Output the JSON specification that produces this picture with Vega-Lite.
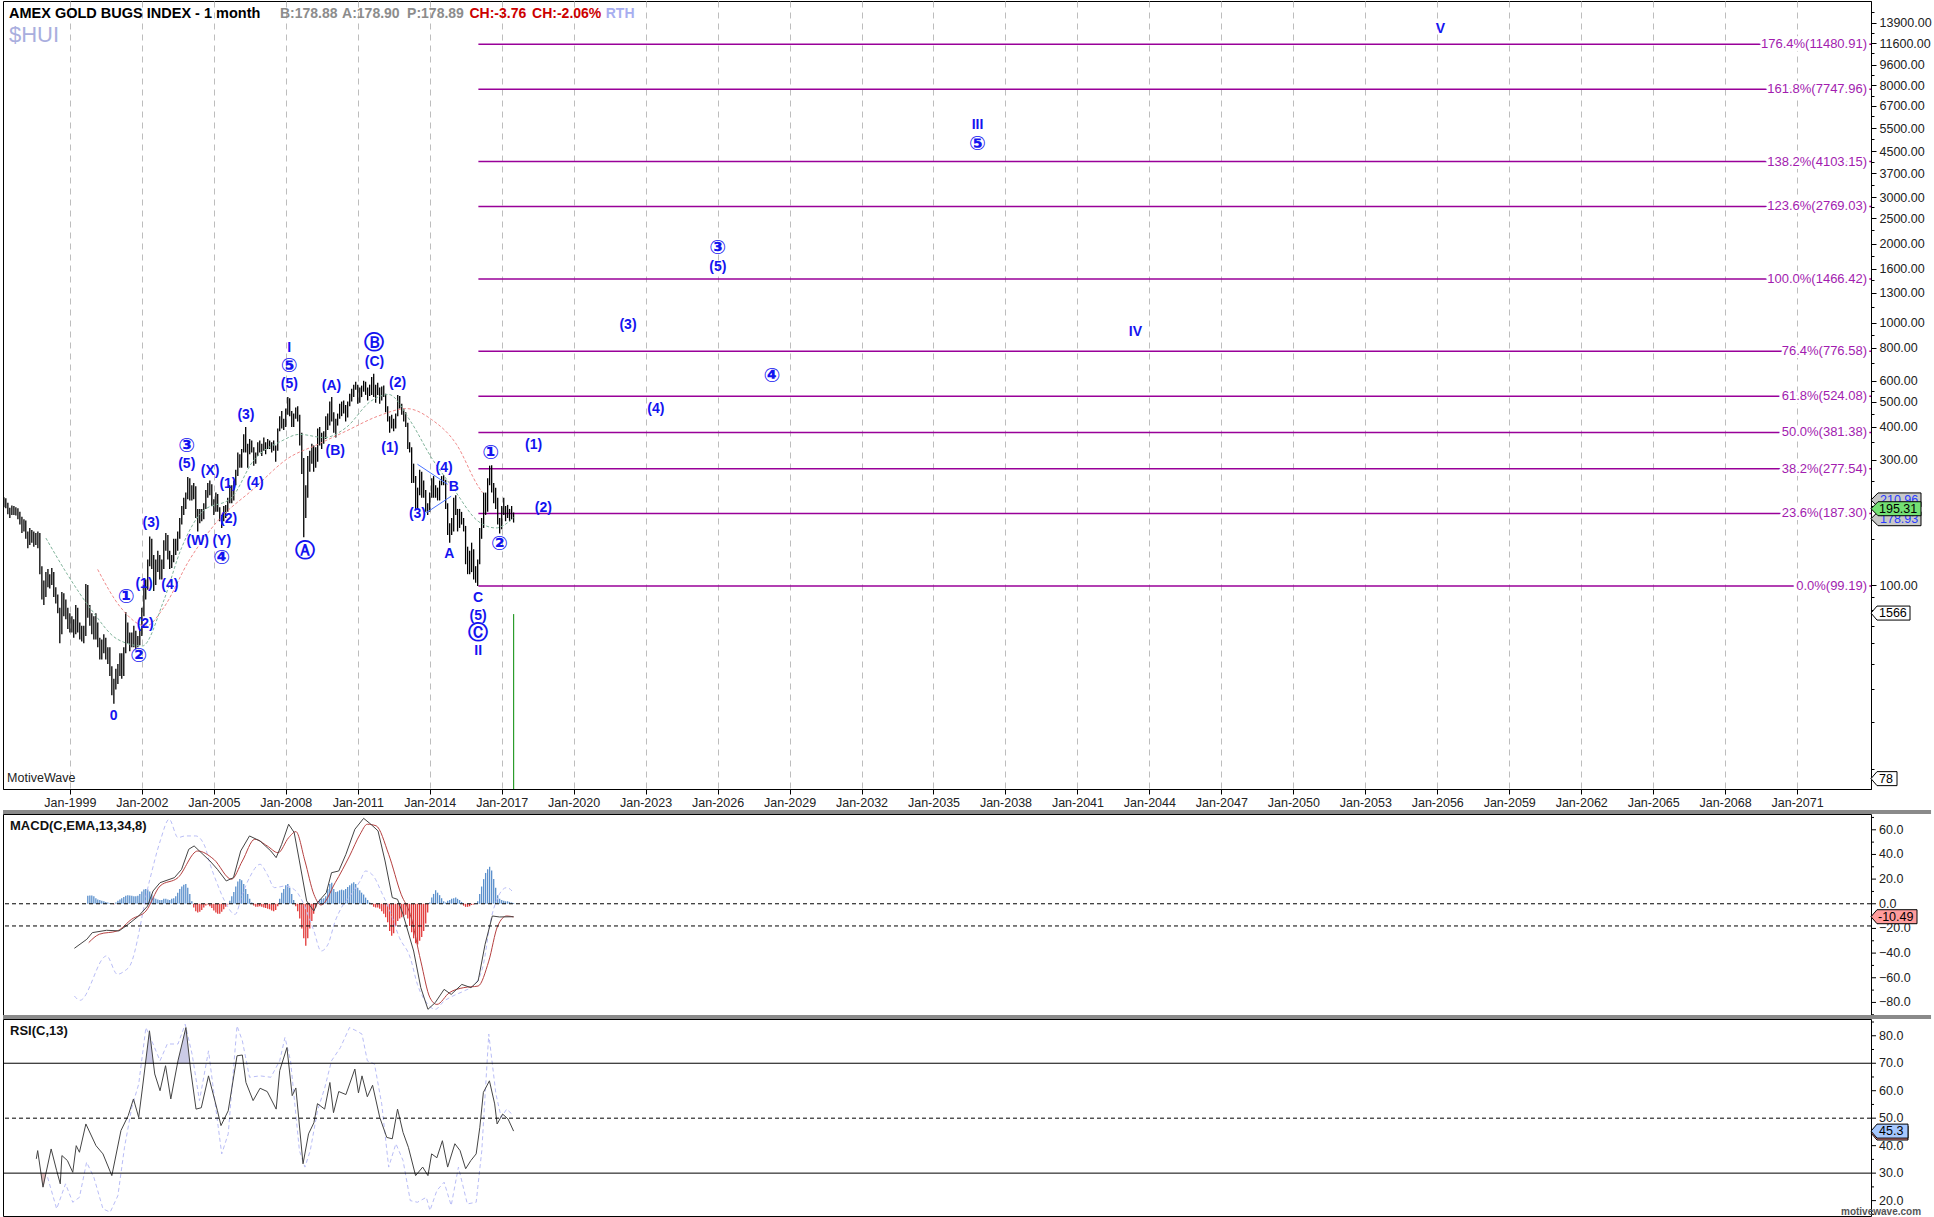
{
"$schema": "https://vega.github.io/schema/vega-lite/v6.json",
"padding": 0,
"background": "white",
"spacing": 25,
"bounds": "flush",
"config": {
 "view": {"stroke": "#000", "strokeWidth": 1},
 "axis": {"title": null, "labelFont": "Liberation Sans", "labelFontSize": 12.5, "labelColor": "#222", "tickColor": "#000", "domainColor": "#000", "labelOverlap": false, "labelFlush": false, "labelBound": false},
 "text": {"font": "Liberation Sans"}
},
"datasets": {
 "px": [
{"d":"1996-04-01","o":203,"h":216,"l":198,"c":210},{"d":"1996-05-01","o":210,"h":214,"l":196,"c":200},{"d":"1996-06-01","o":200,"h":206,"l":186,"c":190},{"d":"1996-07-01","o":190,"h":197,"l":180,"c":188},{"d":"1996-08-01","o":188,"h":201,"l":185,"c":196},{"d":"1996-09-01","o":196,"h":200,"l":185,"c":190},{"d":"1996-10-01","o":190,"h":198,"l":184,"c":192},{"d":"1996-11-01","o":192,"h":196,"l":178,"c":183},{"d":"1996-12-01","o":183,"h":190,"l":170,"c":176},
{"d":"1997-01-01","o":176,"h":182,"l":158,"c":165},{"d":"1997-02-01","o":165,"h":178,"l":160,"c":172},{"d":"1997-03-01","o":172,"h":176,"l":150,"c":155},{"d":"1997-04-01","o":155,"h":160,"l":138,"c":145},{"d":"1997-05-01","o":145,"h":165,"l":142,"c":158},{"d":"1997-06-01","o":158,"h":162,"l":145,"c":150},{"d":"1997-07-01","o":150,"h":160,"l":140,"c":152},{"d":"1997-08-01","o":152,"h":158,"l":142,"c":148},{"d":"1997-09-01","o":148,"h":160,"l":138,"c":155},{"d":"1997-10-01","o":155,"h":158,"l":110,"c":115},{"d":"1997-11-01","o":115,"h":118,"l":88,"c":96},{"d":"1997-12-01","o":96,"h":104,"l":84,"c":98},
{"d":"1998-01-01","o":98,"h":112,"l":90,"c":108},{"d":"1998-02-01","o":108,"h":115,"l":98,"c":104},{"d":"1998-03-01","o":104,"h":110,"l":97,"c":106},{"d":"1998-04-01","o":106,"h":116,"l":100,"c":110},{"d":"1998-05-01","o":110,"h":112,"l":90,"c":94},{"d":"1998-06-01","o":94,"h":98,"l":85,"c":88},{"d":"1998-07-01","o":88,"h":92,"l":78,"c":80},{"d":"1998-08-01","o":80,"h":82,"l":60,"c":66},{"d":"1998-09-01","o":66,"h":94,"l":65,"c":90},{"d":"1998-10-01","o":90,"h":93,"l":76,"c":82},{"d":"1998-11-01","o":82,"h":88,"l":74,"c":78},{"d":"1998-12-01","o":78,"h":82,"l":68,"c":72},
{"d":"1999-01-01","o":72,"h":78,"l":66,"c":73},{"d":"1999-02-01","o":73,"h":76,"l":66,"c":68},{"d":"1999-03-01","o":68,"h":74,"l":63,"c":66},{"d":"1999-04-01","o":66,"h":84,"l":65,"c":80},{"d":"1999-05-01","o":80,"h":82,"l":66,"c":68},{"d":"1999-06-01","o":68,"h":72,"l":62,"c":66},{"d":"1999-07-01","o":66,"h":70,"l":61,"c":64},{"d":"1999-08-01","o":64,"h":70,"l":60,"c":66},{"d":"1999-09-01","o":66,"h":101,"l":64,"c":92},{"d":"1999-10-01","o":92,"h":100,"l":75,"c":80},{"d":"1999-11-01","o":80,"h":84,"l":70,"c":72},{"d":"1999-12-01","o":72,"h":78,"l":65,"c":70},
{"d":"2000-01-01","o":70,"h":76,"l":62,"c":66},{"d":"2000-02-01","o":66,"h":78,"l":62,"c":70},{"d":"2000-03-01","o":70,"h":72,"l":58,"c":60},{"d":"2000-04-01","o":60,"h":63,"l":52,"c":55},{"d":"2000-05-01","o":55,"h":62,"l":52,"c":58},{"d":"2000-06-01","o":58,"h":65,"l":55,"c":62},{"d":"2000-07-01","o":62,"h":63,"l":52,"c":54},{"d":"2000-08-01","o":54,"h":58,"l":50,"c":55},{"d":"2000-09-01","o":55,"h":58,"l":45,"c":47},{"d":"2000-10-01","o":47,"h":49,"l":38,"c":40},{"d":"2000-11-01","o":40,"h":44,"l":35.3,"c":42},{"d":"2000-12-01","o":42,"h":48,"l":40,"c":46},
{"d":"2001-01-01","o":46,"h":50,"l":42,"c":48},{"d":"2001-02-01","o":48,"h":55,"l":45,"c":52},{"d":"2001-03-01","o":52,"h":55,"l":44,"c":46},{"d":"2001-04-01","o":46,"h":58,"l":45,"c":56},{"d":"2001-05-01","o":56,"h":79,"l":55,"c":68},{"d":"2001-06-01","o":68,"h":72,"l":60,"c":63},{"d":"2001-07-01","o":63,"h":66,"l":56,"c":60},{"d":"2001-08-01","o":60,"h":66,"l":58,"c":64},{"d":"2001-09-01","o":64,"h":70,"l":58,"c":62},{"d":"2001-10-01","o":62,"h":67,"l":57,"c":60},{"d":"2001-11-01","o":60,"h":64,"l":58,"c":61},{"d":"2001-12-01","o":61,"h":68,"l":59,"c":66},
{"d":"2002-01-01","o":66,"h":82,"l":64,"c":80},{"d":"2002-02-01","o":80,"h":100,"l":76,"c":95},{"d":"2002-03-01","o":95,"h":105,"l":88,"c":100},{"d":"2002-04-01","o":100,"h":125,"l":96,"c":122},{"d":"2002-05-01","o":122,"h":153,"l":118,"c":140},{"d":"2002-06-01","o":140,"h":150,"l":115,"c":125},{"d":"2002-07-01","o":125,"h":130,"l":95,"c":105},{"d":"2002-08-01","o":105,"h":125,"l":100,"c":120},{"d":"2002-09-01","o":120,"h":135,"l":112,"c":128},{"d":"2002-10-01","o":128,"h":130,"l":105,"c":110},{"d":"2002-11-01","o":110,"h":125,"l":105,"c":118},{"d":"2002-12-01","o":118,"h":148,"l":115,"c":145},
{"d":"2003-01-01","o":145,"h":158,"l":135,"c":150},{"d":"2003-02-01","o":150,"h":155,"l":125,"c":130},{"d":"2003-03-01","o":130,"h":135,"l":115,"c":122},{"d":"2003-04-01","o":122,"h":130,"l":116,"c":125},{"d":"2003-05-01","o":125,"h":150,"l":122,"c":145},{"d":"2003-06-01","o":145,"h":150,"l":130,"c":138},{"d":"2003-07-01","o":138,"h":160,"l":135,"c":155},{"d":"2003-08-01","o":155,"h":180,"l":150,"c":175},{"d":"2003-09-01","o":175,"h":200,"l":170,"c":190},{"d":"2003-10-01","o":190,"h":215,"l":185,"c":210},{"d":"2003-11-01","o":210,"h":225,"l":195,"c":218},{"d":"2003-12-01","o":218,"h":258,"l":212,"c":250},
{"d":"2004-01-01","o":250,"h":255,"l":210,"c":225},{"d":"2004-02-01","o":225,"h":240,"l":210,"c":220},{"d":"2004-03-01","o":220,"h":245,"l":212,"c":235},{"d":"2004-04-01","o":235,"h":238,"l":180,"c":185},{"d":"2004-05-01","o":185,"h":195,"l":160,"c":188},{"d":"2004-06-01","o":188,"h":195,"l":172,"c":180},{"d":"2004-07-01","o":180,"h":195,"l":175,"c":185},{"d":"2004-08-01","o":185,"h":205,"l":178,"c":200},{"d":"2004-09-01","o":200,"h":230,"l":195,"c":225},{"d":"2004-10-01","o":225,"h":245,"l":215,"c":235},{"d":"2004-11-01","o":235,"h":250,"l":220,"c":240},{"d":"2004-12-01","o":240,"h":242,"l":200,"c":210},
{"d":"2005-01-01","o":210,"h":212,"l":185,"c":195},{"d":"2005-02-01","o":195,"h":225,"l":190,"c":215},{"d":"2005-03-01","o":215,"h":222,"l":190,"c":195},{"d":"2005-04-01","o":195,"h":198,"l":175,"c":180},{"d":"2005-05-01","o":180,"h":185,"l":165,"c":178},{"d":"2005-06-01","o":178,"h":200,"l":175,"c":195},{"d":"2005-07-01","o":195,"h":202,"l":180,"c":195},{"d":"2005-08-01","o":195,"h":215,"l":190,"c":210},{"d":"2005-09-01","o":210,"h":240,"l":205,"c":235},{"d":"2005-10-01","o":235,"h":240,"l":205,"c":215},{"d":"2005-11-01","o":215,"h":250,"l":210,"c":245},{"d":"2005-12-01","o":245,"h":275,"l":240,"c":265},
{"d":"2006-01-01","o":265,"h":320,"l":260,"c":310},{"d":"2006-02-01","o":310,"h":315,"l":280,"c":290},{"d":"2006-03-01","o":290,"h":330,"l":280,"c":325},{"d":"2006-04-01","o":325,"h":375,"l":320,"c":365},{"d":"2006-05-01","o":365,"h":400,"l":320,"c":340},{"d":"2006-06-01","o":340,"h":345,"l":280,"c":325},{"d":"2006-07-01","o":325,"h":360,"l":315,"c":340},{"d":"2006-08-01","o":340,"h":355,"l":320,"c":330},{"d":"2006-09-01","o":330,"h":335,"l":285,"c":300},{"d":"2006-10-01","o":300,"h":320,"l":290,"c":315},{"d":"2006-11-01","o":315,"h":350,"l":310,"c":345},{"d":"2006-12-01","o":345,"h":355,"l":320,"c":340},
{"d":"2007-01-01","o":340,"h":345,"l":310,"c":330},{"d":"2007-02-01","o":330,"h":365,"l":325,"c":345},{"d":"2007-03-01","o":345,"h":350,"l":315,"c":340},{"d":"2007-04-01","o":340,"h":360,"l":330,"c":345},{"d":"2007-05-01","o":345,"h":355,"l":330,"c":345},{"d":"2007-06-01","o":345,"h":350,"l":320,"c":330},{"d":"2007-07-01","o":330,"h":355,"l":325,"c":335},{"d":"2007-08-01","o":335,"h":340,"l":295,"c":330},{"d":"2007-09-01","o":330,"h":395,"l":325,"c":390},{"d":"2007-10-01","o":390,"h":440,"l":385,"c":435},{"d":"2007-11-01","o":435,"h":460,"l":395,"c":415},{"d":"2007-12-01","o":415,"h":430,"l":390,"c":410},
{"d":"2008-01-01","o":410,"h":470,"l":400,"c":460},{"d":"2008-02-01","o":460,"h":520,"l":445,"c":500},{"d":"2008-03-01","o":500,"h":515,"l":440,"c":455},{"d":"2008-04-01","o":455,"h":460,"l":400,"c":410},{"d":"2008-05-01","o":410,"h":450,"l":400,"c":445},{"d":"2008-06-01","o":445,"h":475,"l":430,"c":460},{"d":"2008-07-01","o":460,"h":480,"l":420,"c":440},{"d":"2008-08-01","o":440,"h":445,"l":340,"c":350},{"d":"2008-09-01","o":350,"h":380,"l":265,"c":300},{"d":"2008-10-01","o":300,"h":305,"l":152,"c":210},{"d":"2008-11-01","o":210,"h":240,"l":180,"c":225},{"d":"2008-12-01","o":225,"h":310,"l":215,"c":300},
{"d":"2009-01-01","o":300,"h":325,"l":270,"c":310},{"d":"2009-02-01","o":310,"h":345,"l":290,"c":320},{"d":"2009-03-01","o":320,"h":340,"l":270,"c":330},{"d":"2009-04-01","o":330,"h":335,"l":280,"c":300},{"d":"2009-05-01","o":300,"h":395,"l":295,"c":390},{"d":"2009-06-01","o":390,"h":400,"l":340,"c":360},{"d":"2009-07-01","o":360,"h":380,"l":330,"c":370},{"d":"2009-08-01","o":370,"h":385,"l":345,"c":380},{"d":"2009-09-01","o":380,"h":440,"l":360,"c":420},{"d":"2009-10-01","o":420,"h":450,"l":390,"c":410},{"d":"2009-11-01","o":410,"h":500,"l":405,"c":490},{"d":"2009-12-01","o":490,"h":520,"l":420,"c":430},
{"d":"2010-01-01","o":430,"h":455,"l":380,"c":390},{"d":"2010-02-01","o":390,"h":430,"l":365,"c":420},{"d":"2010-03-01","o":420,"h":450,"l":405,"c":440},{"d":"2010-04-01","o":440,"h":490,"l":430,"c":480},{"d":"2010-05-01","o":480,"h":500,"l":440,"c":470},{"d":"2010-06-01","o":470,"h":505,"l":450,"c":480},{"d":"2010-07-01","o":480,"h":485,"l":420,"c":440},{"d":"2010-08-01","o":440,"h":500,"l":435,"c":490},{"d":"2010-09-01","o":490,"h":535,"l":480,"c":530},{"d":"2010-10-01","o":530,"h":560,"l":500,"c":550},{"d":"2010-11-01","o":550,"h":580,"l":520,"c":570},{"d":"2010-12-01","o":570,"h":595,"l":555,"c":575},
{"d":"2011-01-01","o":575,"h":580,"l":490,"c":500},{"d":"2011-02-01","o":500,"h":565,"l":495,"c":560},{"d":"2011-03-01","o":560,"h":575,"l":520,"c":560},{"d":"2011-04-01","o":560,"h":600,"l":545,"c":590},{"d":"2011-05-01","o":590,"h":595,"l":530,"c":560},{"d":"2011-06-01","o":560,"h":565,"l":505,"c":530},{"d":"2011-07-01","o":530,"h":580,"l":525,"c":565},{"d":"2011-08-01","o":565,"h":620,"l":530,"c":600},{"d":"2011-09-01","o":600,"h":638,"l":520,"c":535},{"d":"2011-10-01","o":535,"h":580,"l":495,"c":550},{"d":"2011-11-01","o":550,"h":590,"l":530,"c":560},{"d":"2011-12-01","o":560,"h":565,"l":490,"c":510},
{"d":"2012-01-01","o":510,"h":570,"l":505,"c":560},{"d":"2012-02-01","o":560,"h":575,"l":520,"c":530},{"d":"2012-03-01","o":530,"h":535,"l":455,"c":470},{"d":"2012-04-01","o":470,"h":480,"l":420,"c":430},{"d":"2012-05-01","o":430,"h":440,"l":380,"c":410},{"d":"2012-06-01","o":410,"h":445,"l":395,"c":420},{"d":"2012-07-01","o":420,"h":430,"l":385,"c":400},{"d":"2012-08-01","o":400,"h":450,"l":395,"c":445},{"d":"2012-09-01","o":445,"h":530,"l":440,"c":500},{"d":"2012-10-01","o":500,"h":525,"l":470,"c":480},{"d":"2012-11-01","o":480,"h":490,"l":445,"c":460},{"d":"2012-12-01","o":460,"h":470,"l":420,"c":440},
{"d":"2013-01-01","o":440,"h":455,"l":400,"c":410},{"d":"2013-02-01","o":410,"h":415,"l":330,"c":340},{"d":"2013-03-01","o":340,"h":350,"l":320,"c":330},{"d":"2013-04-01","o":330,"h":335,"l":245,"c":260},{"d":"2013-05-01","o":260,"h":290,"l":245,"c":250},{"d":"2013-06-01","o":250,"h":260,"l":195,"c":205},{"d":"2013-07-01","o":205,"h":235,"l":195,"c":225},{"d":"2013-08-01","o":225,"h":275,"l":220,"c":250},{"d":"2013-09-01","o":250,"h":270,"l":215,"c":230},{"d":"2013-10-01","o":230,"h":250,"l":215,"c":225},{"d":"2013-11-01","o":225,"h":230,"l":190,"c":195},{"d":"2013-12-01","o":195,"h":205,"l":185,"c":195},
{"d":"2014-01-01","o":195,"h":225,"l":190,"c":220},{"d":"2014-02-01","o":220,"h":255,"l":215,"c":250},{"d":"2014-03-01","o":250,"h":260,"l":215,"c":225},{"d":"2014-04-01","o":225,"h":240,"l":215,"c":230},{"d":"2014-05-01","o":230,"h":235,"l":210,"c":215},{"d":"2014-06-01","o":215,"h":250,"l":210,"c":250},{"d":"2014-07-01","o":250,"h":260,"l":240,"c":255},{"d":"2014-08-01","o":255,"h":262,"l":240,"c":250},{"d":"2014-09-01","o":250,"h":252,"l":195,"c":200},{"d":"2014-10-01","o":200,"h":205,"l":155,"c":160},{"d":"2014-11-01","o":160,"h":172,"l":145,"c":165},{"d":"2014-12-01","o":165,"h":180,"l":155,"c":165},
{"d":"2015-01-01","o":165,"h":215,"l":160,"c":205},{"d":"2015-02-01","o":205,"h":220,"l":185,"c":190},{"d":"2015-03-01","o":190,"h":195,"l":160,"c":170},{"d":"2015-04-01","o":170,"h":195,"l":165,"c":180},{"d":"2015-05-01","o":180,"h":190,"l":170,"c":175},{"d":"2015-06-01","o":175,"h":180,"l":160,"c":165},{"d":"2015-07-01","o":165,"h":168,"l":120,"c":125},{"d":"2015-08-01","o":125,"h":140,"l":110,"c":130},{"d":"2015-09-01","o":130,"h":135,"l":110,"c":115},{"d":"2015-10-01","o":115,"h":145,"l":112,"c":135},{"d":"2015-11-01","o":135,"h":137,"l":105,"c":108},{"d":"2015-12-01","o":108,"h":118,"l":102,"c":110},
{"d":"2016-01-01","o":110,"h":125,"l":99.2,"c":122},{"d":"2016-02-01","o":122,"h":165,"l":120,"c":160},{"d":"2016-03-01","o":160,"h":180,"l":150,"c":170},{"d":"2016-04-01","o":170,"h":225,"l":165,"c":220},{"d":"2016-05-01","o":220,"h":225,"l":185,"c":195},{"d":"2016-06-01","o":195,"h":255,"l":190,"c":250},{"d":"2016-07-01","o":250,"h":285,"l":240,"c":270},{"d":"2016-08-01","o":270,"h":286,"l":225,"c":230},{"d":"2016-09-01","o":230,"h":245,"l":205,"c":225},{"d":"2016-10-01","o":225,"h":235,"l":195,"c":205},{"d":"2016-11-01","o":205,"h":215,"l":170,"c":175},{"d":"2016-12-01","o":175,"h":180,"l":157,"c":165},
{"d":"2017-01-01","o":165,"h":200,"l":163,"c":195},{"d":"2017-02-01","o":195,"h":215,"l":185,"c":190},{"d":"2017-03-01","o":190,"h":200,"l":175,"c":190},{"d":"2017-04-01","o":190,"h":202,"l":180,"c":185},{"d":"2017-05-01","o":185,"h":195,"l":175,"c":185},{"d":"2017-06-01","o":185,"h":200,"l":178,"c":182},{"d":"2017-07-01","o":182,"h":189,"l":173,"c":179}
 ],
 "fib": [{"p":11480.91,"t":"176.4%(11480.91)"},{"p":7747.96,"t":"161.8%(7747.96)"},{"p":4103.15,"t":"138.2%(4103.15)"},{"p":2769.03,"t":"123.6%(2769.03)"},{"p":1466.42,"t":"100.0%(1466.42)"},{"p":776.58,"t":"76.4%(776.58)"},{"p":524.08,"t":"61.8%(524.08)"},{"p":381.38,"t":"50.0%(381.38)"},{"p":277.54,"t":"38.2%(277.54)"},{"p":187.30,"t":"23.6%(187.30)"},{"p":99.19,"t":"0.0%(99.19)"}],
 "maRed": [{"d":"2000-02-28","p":114.7},{"d":"2001-02-17","p":81.9},{"d":"2002-03-04","p":69.8},{"d":"2002-11-28","p":81.9},{"d":"2003-12-16","p":123.4},{"d":"2005-02-25","p":175},{"d":"2006-08-22","p":231.6},{"d":"2008-02-14","p":305},{"d":"2009-04-28","p":343},{"d":"2010-07-05","p":385.6},{"d":"2011-11-06","p":440},{"d":"2013-01-15","p":470},{"d":"2014-01-30","p":427},{"d":"2015-02-14","p":343},{"d":"2016-01-08","p":238},{"d":"2016-03-14","p":225}],
 "maGreen": [{"d":"1998-01-01","p":151},{"d":"1998-11-24","p":109.8},{"d":"1999-12-09","p":79.6},{"d":"2000-12-24","p":62.2},{"d":"2002-01-08","p":58.6},{"d":"2002-11-28","p":86.9},{"d":"2003-08-29","p":138.7},{"d":"2004-07-19","p":191.3},{"d":"2005-09-27","p":215},{"d":"2006-08-22","p":296.7},{"d":"2007-10-31","p":353.9},{"d":"2008-07-27","p":375},{"d":"2009-08-10","p":364.5},{"d":"2010-07-05","p":397.5},{"d":"2011-07-20","p":502},{"d":"2012-04-16","p":532},{"d":"2013-03-11","p":422},{"d":"2014-01-30","p":305},{"d":"2014-12-20","p":234.5},{"d":"2016-01-08","p":175},{"d":"2016-10-05","p":165},{"d":"2017-07-01","p":180.6}],
 "chan": [{"g":"u","d":"2013-06-28","p":288.5},{"g":"u","d":"2014-10-01","p":242},{"g":"l","d":"2013-11-10","p":188.6},{"g":"l","d":"2014-11-24","p":218}],
 "wl": [{"d":"2000-10-30","p":31.7,"t":"0"},{"d":"2002-02-03","p":100.6,"t":"(1)"},{"d":"2002-02-21","p":71.2,"t":"(2)"},{"d":"2002-05-22","p":172.6,"t":"(3)"},{"d":"2003-03-04","p":100,"t":"(4)"},{"d":"2003-11-16","p":288,"t":"(5)"},{"d":"2004-11-06","p":273,"t":"(X)"},{"d":"2004-05-01","p":147,"t":"(W)"},{"d":"2005-08-04","p":243,"t":"(1)"},{"d":"2005-08-15","p":178,"t":"(2)"},{"d":"2005-05-01","p":147,"t":"(Y)"},{"d":"2006-05-05","p":444,"t":"(3)"},{"d":"2006-09-20","p":245,"t":"(4)"},{"d":"2008-02-24","p":801,"t":"I"},{"d":"2008-02-24","p":581,"t":"(5)"},{"d":"2009-11-28","p":574,"t":"(A)"},{"d":"2010-01-23","p":324,"t":"(B)"},{"d":"2011-09-13","p":707,"t":"(C)"},{"d":"2012-08-29","p":590,"t":"(2)"},{"d":"2012-05-04","p":333,"t":"(1)"},{"d":"2013-06-28","p":186,"t":"(3)"},{"d":"2014-08-08","p":280,"t":"(4)"},{"d":"2015-01-01","p":236,"t":"B"},{"d":"2014-10-27","p":131,"t":"A"},{"d":"2016-01-08","p":89.5,"t":"C"},{"d":"2016-01-08","p":76.2,"t":"(5)"},{"d":"2016-01-08","p":56.0,"t":"II"},{"d":"2018-05-01","p":341,"t":"(1)"},{"d":"2018-09-27","p":197,"t":"(2)"},{"d":"2022-04-08","p":979,"t":"(3)"},{"d":"2023-06-06","p":467,"t":"(4)"},{"d":"2026-01-04","p":1625,"t":"(5)"},{"d":"2036-11-02","p":5636,"t":"III"},{"d":"2043-06-03","p":922,"t":"IV"},{"d":"2056-02-17","p":13085,"t":"V"}],
 "wc": [{"d":"2001-05-08","p":90,"t":"①"},{"d":"2001-11-13","p":53.6,"t":"②"},{"d":"2003-11-16","p":338,"t":"③"},{"d":"2005-05-01","p":127,"t":"④"},{"d":"2008-02-24","p":681,"t":"⑤"},{"d":"2008-10-19","p":134.7,"t":"Ⓐ"},{"d":"2011-09-13","p":836,"t":"Ⓑ"},{"d":"2016-01-08","p":65.8,"t":"Ⓒ"},{"d":"2016-07-19","p":319,"t":"①"},{"d":"2016-11-28","p":143.7,"t":"②"},{"d":"2026-01-04","p":1916,"t":"③"},{"d":"2028-04-08","p":623,"t":"④"},{"d":"2036-11-02","p":4808,"t":"⑤"}],
 "hdr": [{"d":"2007-10-05","p":14934,"t":"B:178.88","k":"g"},{"d":"2010-05-07","p":14934,"t":"A:178.90","k":"g"},{"d":"2013-01-21","p":14934,"t":"P:178.89","k":"g"},{"d":"2015-08-29","p":14934,"t":"CH:-3.76","k":"r"},{"d":"2018-04-08","p":14934,"t":"CH:-2.06%","k":"r"},{"d":"2021-05-04","p":14934,"t":"RTH","k":"b"}],
 "hist": [{"d":"1999-10-01","v":6.5},{"d":"1999-11-01","v":6.8},{"d":"1999-12-01","v":6.8},{"d":"2000-01-01","v":6},{"d":"2000-02-01","v":4.5},{"d":"2000-03-01","v":3.5},{"d":"2000-04-01","v":3},{"d":"2000-05-01","v":2.5},{"d":"2000-06-01","v":2},{"d":"2000-07-01","v":1.5},{"d":"2000-08-01","v":1},{"d":"2000-09-01","v":0.6},{"d":"2000-10-01","v":0.3},{"d":"2000-11-01","v":-0.4},{"d":"2000-12-01","v":1},
{"d":"2001-01-01","v":2.5},{"d":"2001-02-01","v":3.5},{"d":"2001-03-01","v":4.5},{"d":"2001-04-01","v":5.5},{"d":"2001-05-01","v":6.5},{"d":"2001-06-01","v":7},{"d":"2001-07-01","v":6.8},{"d":"2001-08-01","v":6.5},{"d":"2001-09-01","v":6},{"d":"2001-10-01","v":6},{"d":"2001-11-01","v":6.5},{"d":"2001-12-01","v":8},
{"d":"2002-01-01","v":10},{"d":"2002-02-01","v":11.5},{"d":"2002-03-01","v":12},{"d":"2002-04-01","v":11.5},{"d":"2002-05-01","v":10},{"d":"2002-06-01","v":7.5},{"d":"2002-07-01","v":5},{"d":"2002-08-01","v":4},{"d":"2002-09-01","v":3.5},{"d":"2002-10-01","v":3},{"d":"2002-11-01","v":3},{"d":"2002-12-01","v":4},
{"d":"2003-01-01","v":4},{"d":"2003-02-01","v":3.5},{"d":"2003-03-01","v":3},{"d":"2003-04-01","v":4},{"d":"2003-05-01","v":4.5},{"d":"2003-06-01","v":6},{"d":"2003-07-01","v":9},{"d":"2003-08-01","v":12},{"d":"2003-09-01","v":14},{"d":"2003-10-01","v":15.5},{"d":"2003-11-01","v":16},{"d":"2003-12-01","v":13},
{"d":"2004-01-01","v":8},{"d":"2004-02-01","v":2},{"d":"2004-03-01","v":-3},{"d":"2004-04-01","v":-6},{"d":"2004-05-01","v":-7},{"d":"2004-06-01","v":-6.5},{"d":"2004-07-01","v":-5},{"d":"2004-08-01","v":-3},{"d":"2004-09-01","v":-1.5},{"d":"2004-10-01","v":-0.5},{"d":"2004-11-01","v":-2},{"d":"2004-12-01","v":-3.5},
{"d":"2005-01-01","v":-5.5},{"d":"2005-02-01","v":-7},{"d":"2005-03-01","v":-8},{"d":"2005-04-01","v":-8},{"d":"2005-05-01","v":-6.5},{"d":"2005-06-01","v":-4.5},{"d":"2005-07-01","v":-2.5},{"d":"2005-08-01","v":-0.5},{"d":"2005-09-01","v":2.5},{"d":"2005-10-01","v":6},{"d":"2005-11-01","v":9.5},{"d":"2005-12-01","v":14},
{"d":"2006-01-01","v":18},{"d":"2006-02-01","v":20},{"d":"2006-03-01","v":19},{"d":"2006-04-01","v":16},{"d":"2006-05-01","v":12},{"d":"2006-06-01","v":8},{"d":"2006-07-01","v":4},{"d":"2006-08-01","v":1},{"d":"2006-09-01","v":-1.5},{"d":"2006-10-01","v":-2.5},{"d":"2006-11-01","v":-2.5},{"d":"2006-12-01","v":-2},
{"d":"2007-01-01","v":-2.5},{"d":"2007-02-01","v":-3},{"d":"2007-03-01","v":-3.5},{"d":"2007-04-01","v":-4},{"d":"2007-05-01","v":-4.5},{"d":"2007-06-01","v":-5.5},{"d":"2007-07-01","v":-6},{"d":"2007-08-01","v":-5},{"d":"2007-09-01","v":-2},{"d":"2007-10-01","v":4},{"d":"2007-11-01","v":9},{"d":"2007-12-01","v":12},
{"d":"2008-01-01","v":15},{"d":"2008-02-01","v":16},{"d":"2008-03-01","v":13},{"d":"2008-04-01","v":8},{"d":"2008-05-01","v":3},{"d":"2008-06-01","v":-2},{"d":"2008-07-01","v":-6},{"d":"2008-08-01","v":-12},{"d":"2008-09-01","v":-20},{"d":"2008-10-01","v":-28},{"d":"2008-11-01","v":-34},{"d":"2008-12-01","v":-28},
{"d":"2009-01-01","v":-20},{"d":"2009-02-01","v":-14},{"d":"2009-03-01","v":-8},{"d":"2009-04-01","v":-3},{"d":"2009-05-01","v":2},{"d":"2009-06-01","v":3.5},{"d":"2009-07-01","v":4},{"d":"2009-08-01","v":4.5},{"d":"2009-09-01","v":6},{"d":"2009-10-01","v":12},{"d":"2009-11-01","v":16},{"d":"2009-12-01","v":17},
{"d":"2010-01-01","v":12},{"d":"2010-02-01","v":9.5},{"d":"2010-03-01","v":10},{"d":"2010-04-01","v":11},{"d":"2010-05-01","v":11.5},{"d":"2010-06-01","v":11},{"d":"2010-07-01","v":12},{"d":"2010-08-01","v":13.5},{"d":"2010-09-01","v":15},{"d":"2010-10-01","v":16.5},{"d":"2010-11-01","v":17.5},{"d":"2010-12-01","v":16},
{"d":"2011-01-01","v":13},{"d":"2011-02-01","v":11},{"d":"2011-03-01","v":9},{"d":"2011-04-01","v":7.5},{"d":"2011-05-01","v":5},{"d":"2011-06-01","v":3},{"d":"2011-07-01","v":1},{"d":"2011-08-01","v":-0.5},{"d":"2011-09-01","v":-2.5},{"d":"2011-10-01","v":-3},{"d":"2011-11-01","v":-3},{"d":"2011-12-01","v":-4},
{"d":"2012-01-01","v":-6},{"d":"2012-02-01","v":-8},{"d":"2012-03-01","v":-11},{"d":"2012-04-01","v":-15},{"d":"2012-05-01","v":-22},{"d":"2012-06-01","v":-26},{"d":"2012-07-01","v":-24},{"d":"2012-08-01","v":-18},{"d":"2012-09-01","v":-14},{"d":"2012-10-01","v":-12},{"d":"2012-11-01","v":-11},{"d":"2012-12-01","v":-10},
{"d":"2013-01-01","v":-9},{"d":"2013-02-01","v":-12},{"d":"2013-03-01","v":-18},{"d":"2013-04-01","v":-23},{"d":"2013-05-01","v":-28},{"d":"2013-06-01","v":-32},{"d":"2013-07-01","v":-33},{"d":"2013-08-01","v":-30},{"d":"2013-09-01","v":-27},{"d":"2013-10-01","v":-22},{"d":"2013-11-01","v":-16},{"d":"2013-12-01","v":-7},
{"d":"2014-01-01","v":1},{"d":"2014-02-01","v":5},{"d":"2014-03-01","v":8},{"d":"2014-04-01","v":11},{"d":"2014-05-01","v":9},{"d":"2014-06-01","v":7},{"d":"2014-07-01","v":4.5},{"d":"2014-08-01","v":2},{"d":"2014-09-01","v":1},{"d":"2014-10-01","v":2.5},{"d":"2014-11-01","v":3},{"d":"2014-12-01","v":4},
{"d":"2015-01-01","v":4.5},{"d":"2015-02-01","v":5},{"d":"2015-03-01","v":4},{"d":"2015-04-01","v":3},{"d":"2015-05-01","v":1.5},{"d":"2015-06-01","v":-1.5},{"d":"2015-07-01","v":-2.5},{"d":"2015-08-01","v":-2.5},{"d":"2015-09-01","v":-2},{"d":"2015-10-01","v":-1},{"d":"2015-11-01","v":-0.5},{"d":"2015-12-01","v":0.3},
{"d":"2016-01-01","v":2},{"d":"2016-02-01","v":8},{"d":"2016-03-01","v":14},{"d":"2016-04-01","v":20},{"d":"2016-05-01","v":25},{"d":"2016-06-01","v":28},{"d":"2016-07-01","v":30},{"d":"2016-08-01","v":27},{"d":"2016-09-01","v":20},{"d":"2016-10-01","v":13},{"d":"2016-11-01","v":7},{"d":"2016-12-01","v":4},
{"d":"2017-01-01","v":3},{"d":"2017-02-01","v":2.5},{"d":"2017-03-01","v":2},{"d":"2017-04-01","v":2},{"d":"2017-05-01","v":1.5},{"d":"2017-06-01","v":1},{"d":"2017-07-01","v":0.6}],
 "macd": [{"d":"1999-03-11","v":-36.1},{"d":"1999-09-16","v":-28.8},{"d":"1999-12-09","v":-23.4},{"d":"2000-07-13","v":-21.5},{"d":"2001-01-19","v":-22},{"d":"2001-06-07","v":-16.7},{"d":"2001-11-14","v":-9.9},{"d":"2002-03-28","v":-1.9},{"d":"2002-06-21","v":10.4},{"d":"2002-10-05","v":17.1},{"d":"2003-05-12","v":21.2},{"d":"2003-08-29","v":27.9},{"d":"2003-12-16","v":44.2},{"d":"2004-03-07","v":46.9},{"d":"2004-07-19","v":40.1},{"d":"2004-11-03","v":34.7},{"d":"2005-02-25","v":27.9},{"d":"2005-07-09","v":18.5},{"d":"2005-10-27","v":21.2},{"d":"2006-02-14","v":42.8},{"d":"2006-06-28","v":55},{"d":"2006-12-06","v":50.9},{"d":"2007-05-19","v":42.8},{"d":"2007-08-08","v":37.4},{"d":"2007-10-31","v":48.2},{"d":"2008-02-14","v":64.5},{"d":"2008-05-08","v":57.8},{"d":"2008-07-27","v":34.7},{"d":"2008-11-14","v":2.3},{"d":"2009-03-04","v":-5.9},{"d":"2009-04-28","v":0.9},{"d":"2009-09-09","v":9},{"d":"2009-11-28","v":25.2},{"d":"2010-03-18","v":26.6},{"d":"2010-07-05","v":40.1},{"d":"2010-11-18","v":60.4},{"d":"2011-04-01","v":69.3},{"d":"2011-07-20","v":64.5},{"d":"2011-11-06","v":59.1},{"d":"2012-02-21","v":34.7},{"d":"2012-06-10","v":5},{"d":"2012-08-29","v":3.6},{"d":"2012-11-21","v":-8.6},{"d":"2013-05-01","v":-38.3},{"d":"2013-08-18","v":-68},{"d":"2013-12-05","v":-85.6},{"d":"2014-03-25","v":-80.2},{"d":"2014-08-08","v":-69.4},{"d":"2014-11-24","v":-73.5},{"d":"2015-05-05","v":-65.4},{"d":"2015-09-20","v":-68},{"d":"2016-01-08","v":-62.6},{"d":"2016-04-23","v":-32.9},{"d":"2016-08-11","v":-9.9},{"d":"2016-11-28","v":-10.7},{"d":"2017-07-01","v":-10.5}],
 "sig": [{"d":"1999-10-15","v":-31.5},{"d":"2000-03-25","v":-24.7},{"d":"2000-12-24","v":-22},{"d":"2001-07-31","v":-12.5},{"d":"2002-03-04","v":-5.9},{"d":"2002-10-05","v":14.4},{"d":"2003-07-05","v":21.2},{"d":"2004-05-01","v":42.8},{"d":"2005-01-01","v":36},{"d":"2005-09-27","v":19.9},{"d":"2006-03-11","v":34.7},{"d":"2006-09-16","v":52.3},{"d":"2007-03-25","v":46.9},{"d":"2007-09-06","v":41.4},{"d":"2008-02-14","v":53.6},{"d":"2008-06-03","v":58.5},{"d":"2008-10-19","v":34.7},{"d":"2009-03-04","v":7.7},{"d":"2009-06-21","v":-1},{"d":"2010-01-23","v":17.1},{"d":"2010-08-29","v":38.7},{"d":"2011-02-06","v":56.4},{"d":"2011-05-27","v":64.5},{"d":"2011-10-08","v":63.2},{"d":"2012-04-16","v":40.1},{"d":"2012-10-23","v":7.7},{"d":"2013-03-11","v":-8.6},{"d":"2013-08-18","v":-46.5},{"d":"2014-01-05","v":-76.2},{"d":"2014-04-20","v":-81.6},{"d":"2014-10-27","v":-72.1},{"d":"2015-06-03","v":-68},{"d":"2016-01-08","v":-66.7},{"d":"2016-06-18","v":-46.5},{"d":"2016-10-31","v":-18.1},{"d":"2017-03-18","v":-9.9},{"d":"2017-07-01","v":-10.7}],
 "mfaint": [{"d":"1999-03-11","v":-74.8},{"d":"1999-06-03","v":-78.3},{"d":"2000-07-13","v":-42.3},{"d":"2000-12-24","v":-57.2},{"d":"2001-04-12","v":-54.5},{"d":"2001-07-02","v":-50.4},{"d":"2002-04-27","v":18.5},{"d":"2002-10-08","v":51},{"d":"2003-02-21","v":68.5},{"d":"2003-07-05","v":53.7},{"d":"2003-10-23","v":55},{"d":"2004-04-01","v":55},{"d":"2004-08-15","v":46.9},{"d":"2004-11-06","v":32},{"d":"2005-02-25","v":15.8},{"d":"2005-06-14","v":2.3},{"d":"2005-11-21","v":-8.6},{"d":"2006-03-11","v":7.7},{"d":"2006-06-28","v":21.2},{"d":"2006-12-06","v":32},{"d":"2007-03-25","v":23.9},{"d":"2007-07-13","v":13.1},{"d":"2007-12-24","v":14.4},{"d":"2008-06-03","v":10.4},{"d":"2008-09-20","v":0.9},{"d":"2009-03-04","v":-22},{"d":"2009-06-21","v":-38.3},{"d":"2009-10-05","v":-32.9},{"d":"2010-01-23","v":-14},{"d":"2010-05-12","v":-1.9},{"d":"2010-09-24","v":7.7},{"d":"2011-02-06","v":18.5},{"d":"2011-05-01","v":26.6},{"d":"2011-09-13","v":21.2},{"d":"2012-01-01","v":9},{"d":"2012-04-16","v":-3.2},{"d":"2012-09-27","v":-27.5},{"d":"2013-03-11","v":-43.8},{"d":"2013-06-28","v":-65.4},{"d":"2013-12-05","v":-81.6},{"d":"2014-03-25","v":-85.6},{"d":"2014-08-08","v":-78.9},{"d":"2014-12-20","v":-74.8},{"d":"2015-06-03","v":-70.8},{"d":"2015-11-14","v":-65.4},{"d":"2016-03-28","v":-49.2},{"d":"2016-07-16","v":-14},{"d":"2016-10-31","v":4.9},{"d":"2017-03-18","v":13.1},{"d":"2017-07-01","v":9}],
 "rsi": [{"d":"1997-08-08","v":35.2},{"d":"1997-08-29","v":38.2},{"d":"1997-11-18","v":24.9},{"d":"1998-03-22","v":38.8},{"d":"1998-06-14","v":30.9},{"d":"1998-08-08","v":26.1},{"d":"1998-09-02","v":36.4},{"d":"1998-11-24","v":34.6},{"d":"1999-02-14","v":30.3},{"d":"1999-04-08","v":40},{"d":"1999-05-27","v":37.6},{"d":"1999-09-02","v":47.9},{"d":"2000-02-03","v":40},{"d":"2000-05-19","v":37},{"d":"2000-10-01","v":29.1},{"d":"2001-02-17","v":45.5},{"d":"2001-06-07","v":50.9},{"d":"2001-08-26","v":57},{"d":"2001-11-14","v":50.3},{"d":"2002-01-08","v":60.6},{"d":"2002-04-27","v":81.8},{"d":"2002-07-16","v":66.1},{"d":"2002-10-05","v":60},{"d":"2002-12-28","v":69.1},{"d":"2003-03-18","v":57},{"d":"2003-07-05","v":70.9},{"d":"2003-11-03","v":83},{"d":"2004-01-12","v":67.9},{"d":"2004-04-05","v":53.3},{"d":"2004-06-24","v":53.8},{"d":"2004-10-12","v":65.4},{"d":"2005-02-25","v":52.7},{"d":"2005-04-20","v":47.3},{"d":"2005-08-08","v":52.7},{"d":"2005-12-20","v":72.7},{"d":"2006-03-11","v":73},{"d":"2006-05-05","v":63},{"d":"2006-08-22","v":56.4},{"d":"2006-12-06","v":60.9},{"d":"2007-03-25","v":59.7},{"d":"2007-08-08","v":53.3},{"d":"2007-10-01","v":67.3},{"d":"2008-01-19","v":75.7},{"d":"2008-04-08","v":58.2},{"d":"2008-06-03","v":61},{"d":"2008-09-20","v":33.4},{"d":"2008-12-13","v":44.3},{"d":"2009-03-04","v":48.3},{"d":"2009-04-28","v":55.3},{"d":"2009-08-15","v":53.3},{"d":"2009-11-03","v":63},{"d":"2009-12-28","v":52},{"d":"2010-03-18","v":59.7},{"d":"2010-07-05","v":58.6},{"d":"2010-11-18","v":67.9},{"d":"2011-01-12","v":59.2},{"d":"2011-03-07","v":65.4},{"d":"2011-05-27","v":57.8},{"d":"2011-08-15","v":62},{"d":"2011-12-02","v":50.3},{"d":"2012-03-18","v":43},{"d":"2012-06-10","v":42.5},{"d":"2012-08-29","v":53.3},{"d":"2012-11-21","v":44.8},{"d":"2013-02-10","v":39.4},{"d":"2013-05-31","v":29.1},{"d":"2013-09-16","v":32.2},{"d":"2013-12-05","v":29.1},{"d":"2014-01-30","v":37},{"d":"2014-04-20","v":35.6},{"d":"2014-07-13","v":41.8},{"d":"2014-10-01","v":32.2},{"d":"2015-01-19","v":40.7},{"d":"2015-04-08","v":38.2},{"d":"2015-07-02","v":31.6},{"d":"2015-09-20","v":34.6},{"d":"2015-12-09","v":37},{"d":"2016-02-03","v":46.7},{"d":"2016-03-28","v":59.4},{"d":"2016-06-28","v":63.6},{"d":"2016-09-16","v":55.2},{"d":"2016-10-23","v":47.9},{"d":"2017-01-15","v":51.5},{"d":"2017-04-08","v":49.7},{"d":"2017-07-01","v":45.3}],
 "rsiFaint": [{"d":"1998-01-27","v":28.5},{"d":"1998-06-14","v":17},{"d":"1998-10-27","v":26.1},{"d":"1999-02-14","v":19.4},{"d":"1999-05-27","v":21.2},{"d":"1999-09-13","v":34},{"d":"2000-01-01","v":28.5},{"d":"2000-05-19","v":17},{"d":"2000-09-06","v":15.8},{"d":"2001-01-01","v":21.8},{"d":"2001-04-12","v":39.4},{"d":"2001-07-31","v":53.8},{"d":"2001-11-14","v":62.4},{"d":"2002-03-04","v":83},{"d":"2002-06-21","v":77},{"d":"2002-10-05","v":70.9},{"d":"2003-01-23","v":77},{"d":"2003-07-05","v":77},{"d":"2003-10-23","v":84.2},{"d":"2004-02-06","v":73.2},{"d":"2004-05-27","v":56.4},{"d":"2004-10-12","v":74.5},{"d":"2005-01-30","v":53.8},{"d":"2005-05-01","v":37},{"d":"2005-08-08","v":44.3},{"d":"2005-12-20","v":83.6},{"d":"2006-03-11","v":78.2},{"d":"2006-06-28","v":64.9},{"d":"2006-12-06","v":65.4},{"d":"2007-05-19","v":64.9},{"d":"2007-10-01","v":70.9},{"d":"2007-12-20","v":79.4},{"d":"2008-03-14","v":70.9},{"d":"2008-07-27","v":38.2},{"d":"2008-10-19","v":32.2},{"d":"2009-01-08","v":38.2},{"d":"2009-04-28","v":52.7},{"d":"2009-08-15","v":60.9},{"d":"2009-11-28","v":70.9},{"d":"2010-04-12","v":75.7},{"d":"2010-08-29","v":83},{"d":"2010-12-13","v":81.8},{"d":"2011-03-07","v":80.6},{"d":"2011-05-27","v":70.9},{"d":"2011-09-13","v":69.7},{"d":"2012-01-01","v":55.2},{"d":"2012-04-16","v":32.2},{"d":"2012-08-04","v":40.7},{"d":"2012-11-21","v":34.6},{"d":"2013-03-11","v":20},{"d":"2013-06-28","v":19.4},{"d":"2013-11-10","v":21.2},{"d":"2014-01-05","v":16.4},{"d":"2014-04-20","v":23.7},{"d":"2014-08-08","v":26.7},{"d":"2014-11-24","v":18.2},{"d":"2015-03-14","v":32.2},{"d":"2015-07-27","v":18.8},{"d":"2015-12-09","v":19.4},{"d":"2016-03-04","v":38.2},{"d":"2016-06-18","v":80.6},{"d":"2016-10-05","v":58.8},{"d":"2016-12-24","v":50.3},{"d":"2017-03-18","v":53.3},{"d":"2017-07-01","v":50.9}],
 "rsiLow": [{"d":"1997-10-19","v":30},{"d":"1997-11-18","v":24.9},{"d":"1998-01-01","v":30}],
 "rsiHigh": [{"g":"a","d":"2002-02-25","v":70},{"g":"a","d":"2002-04-27","v":81.8},{"g":"a","d":"2002-06-27","v":70},{"g":"b","d":"2003-06-28","v":70},{"g":"b","d":"2003-07-05","v":70.9},{"g":"b","d":"2003-11-03","v":83},{"g":"b","d":"2004-01-01","v":70}],
 "macdMajor": [{"v":-80},{"v":-60},{"v":-40},{"v":-20},{"v":0},{"v":20},{"v":40},{"v":60}],
 "macdMinor": [{"v":-90},{"v":-70},{"v":-50},{"v":-30},{"v":-10},{"v":10},{"v":30},{"v":50},{"v":70}],
 "rsiMajor": [{"v":20},{"v":30},{"v":40},{"v":50},{"v":60},{"v":70},{"v":80}],
 "rsiMinor": [{"v":15},{"v":25},{"v":35},{"v":45},{"v":55},{"v":65},{"v":75},{"v":85}]
},
"vconcat": [
 {
  "width": 1868, "height": 788,
  "layer": [
   {"data": {"name": "fib"}, "mark": {"type": "rule", "color": "#990099", "strokeWidth": 1.5},
    "encoding": {"x": {"datum": {"year": 2016, "month": 1, "date": 12, "utc": true}, "type": "temporal"}, "x2": {"datum": {"year": 2074, "month": 1, "date": 30, "utc": true}}, "y": {"field": "p", "type": "quantitative"}}},
   {"data": {"name": "px"}, "mark": {"type": "rule", "color": "#000", "strokeWidth": 1.3},
    "encoding": {
     "x": {"field": "d", "type": "temporal",
       "scale": {"type": "utc", "domain": [{"year": 1996, "month": 3, "date": 19, "utc": true}, {"year": 2074, "month": 1, "date": 30, "utc": true}], "nice": false},
       "axis": {"orient": "bottom", "values": [{"year":1999,"month":1,"date":1,"utc":true},{"year":2002,"month":1,"date":1,"utc":true},{"year":2005,"month":1,"date":1,"utc":true},{"year":2008,"month":1,"date":1,"utc":true},{"year":2011,"month":1,"date":1,"utc":true},{"year":2014,"month":1,"date":1,"utc":true},{"year":2017,"month":1,"date":1,"utc":true},{"year":2020,"month":1,"date":1,"utc":true},{"year":2023,"month":1,"date":1,"utc":true},{"year":2026,"month":1,"date":1,"utc":true},{"year":2029,"month":1,"date":1,"utc":true},{"year":2032,"month":1,"date":1,"utc":true},{"year":2035,"month":1,"date":1,"utc":true},{"year":2038,"month":1,"date":1,"utc":true},{"year":2041,"month":1,"date":1,"utc":true},{"year":2044,"month":1,"date":1,"utc":true},{"year":2047,"month":1,"date":1,"utc":true},{"year":2050,"month":1,"date":1,"utc":true},{"year":2053,"month":1,"date":1,"utc":true},{"year":2056,"month":1,"date":1,"utc":true},{"year":2059,"month":1,"date":1,"utc":true},{"year":2062,"month":1,"date":1,"utc":true},{"year":2065,"month":1,"date":1,"utc":true},{"year":2068,"month":1,"date":1,"utc":true},{"year":2071,"month":1,"date":1,"utc":true}],
         "labelExpr": "utcFormat(datum.value, '%b-%Y')", "labelOverlap": false, "grid": true, "gridColor": "#bdbdbd", "gridDash": [6, 5], "tickSize": 5, "labelPadding": 2, "minExtent": 21, "maxExtent": 21}},
     "y": {"field": "l", "type": "quantitative",
       "scale": {"type": "log", "domain": [16.71, 16785], "nice": false},
       "axis": {"orient": "right", "values": [20, 30, 40, 50, 60, 70, 80, 90, 100, 150, 200, 250, 300, 350, 400, 450, 500, 550, 600, 700, 800, 900, 1000, 1150, 1300, 1450, 1600, 1800, 2000, 2250, 2500, 2750, 3000, 3350, 3700, 4100, 4500, 5000, 5500, 6100, 6700, 7300, 8000, 8800, 9600, 10600, 11600, 12700, 13900, 15200],
         "labelExpr": "indexof([100, 300, 400, 500, 600, 800, 1000, 1300, 1600, 2000, 2500, 3000, 3700, 4500, 5500, 6700, 8000, 9600, 11600, 13900], datum.value) >= 0 ? format(datum.value, '.2f') : ''",
         "tickSize": {"condition": {"test": "indexof([100, 300, 400, 500, 600, 800, 1000, 1300, 1600, 2000, 2500, 3000, 3700, 4500, 5500, 6700, 8000, 9600, 11600, 13900], datum.value) < 0", "value": 3}, "value": 5},
         "labelOverlap": false, "labelPadding": 3, "grid": false, "minExtent": 66, "maxExtent": 66}},
     "y2": {"field": "h"}}},
   {"data": {"name": "maRed"}, "mark": {"type": "line", "color": "#f08a8a", "strokeWidth": 1, "strokeDash": [3, 2], "interpolate": "monotone"},
    "encoding": {"x": {"field": "d", "type": "temporal"}, "y": {"field": "p", "type": "quantitative"}}},
   {"data": {"name": "maGreen"}, "mark": {"type": "line", "color": "#7fb39a", "strokeWidth": 1, "strokeDash": [3, 2], "interpolate": "monotone"},
    "encoding": {"x": {"field": "d", "type": "temporal"}, "y": {"field": "p", "type": "quantitative"}}},
   {"data": {"name": "chan"}, "mark": {"type": "line", "color": "#4a72ff", "strokeWidth": 1},
    "encoding": {"x": {"field": "d", "type": "temporal"}, "y": {"field": "p", "type": "quantitative"}, "detail": {"field": "g"}}},
   {"data": {"values": [{"d": "2017-07-01", "a": 77.5, "b": 16.71}]}, "mark": {"type": "rule", "color": "#2c9c2c", "strokeWidth": 1.2},
    "encoding": {"x": {"field": "d", "type": "temporal"}, "y": {"field": "a", "type": "quantitative"}, "y2": {"field": "b"}}},
   {"data": {"name": "fib"}, "mark": {"type": "text", "align": "right", "baseline": "middle", "dx": -4, "fontSize": 13, "fill": "white", "stroke": "white", "strokeWidth": 6, "strokeJoin": "round"},
    "encoding": {"x": {"datum": {"year": 2074, "month": 1, "date": 30, "utc": true}, "type": "temporal"}, "y": {"field": "p", "type": "quantitative"}, "text": {"field": "t"}}},
   {"data": {"name": "fib"}, "mark": {"type": "text", "align": "right", "baseline": "middle", "dx": -4, "fontSize": 13, "color": "#a21caf"},
    "encoding": {"x": {"datum": {"year": 2074, "month": 1, "date": 30, "utc": true}, "type": "temporal"}, "y": {"field": "p", "type": "quantitative"}, "text": {"field": "t"}}},
   {"data": {"name": "wl"}, "mark": {"type": "text", "align": "center", "baseline": "middle", "fontSize": 14, "fontWeight": "bold", "color": "#1414f0"},
    "encoding": {"x": {"field": "d", "type": "temporal"}, "y": {"field": "p", "type": "quantitative"}, "text": {"field": "t"}}},
   {"data": {"name": "wc"}, "mark": {"type": "text", "align": "center", "baseline": "middle", "fontSize": 20, "fontWeight": "bold", "font": "DejaVu Sans", "color": "#1414f0"},
    "encoding": {"x": {"field": "d", "type": "temporal"}, "y": {"field": "p", "type": "quantitative"}, "text": {"field": "t"}}},
   {"data": {"values": [{"d": "1996-06-18", "p": 14934, "t": "AMEX GOLD BUGS INDEX - 1 month"}]}, "mark": {"type": "text", "align": "left", "baseline": "middle", "fontSize": 14.5, "fontWeight": "bold", "color": "#000"},
    "encoding": {"x": {"field": "d", "type": "temporal"}, "y": {"field": "p", "type": "quantitative"}, "text": {"field": "t"}}},
   {"data": {"name": "hdr"}, "mark": {"type": "text", "align": "left", "baseline": "middle", "fontSize": 14, "fontWeight": "bold"},
    "encoding": {"x": {"field": "d", "type": "temporal"}, "y": {"field": "p", "type": "quantitative"}, "text": {"field": "t"},
      "color": {"field": "k", "type": "nominal", "scale": {"domain": ["g", "r", "b"], "range": ["#8c8c8c", "#cc0000", "#a7aef0"]}, "legend": null}}},
   {"data": {"values": [{"d": "1996-06-18", "p": 12500, "t": "$HUI"}]}, "mark": {"type": "text", "align": "left", "baseline": "middle", "fontSize": 22, "color": "#a9aede"},
    "encoding": {"x": {"field": "d", "type": "temporal"}, "y": {"field": "p", "type": "quantitative"}, "text": {"field": "t"}}},
   {"data": {"values": [{"d": "1996-05-20", "p": 18.4, "t": "MotiveWave"}]}, "mark": {"type": "text", "align": "left", "baseline": "middle", "fontSize": 12.5, "color": "#222"},
    "encoding": {"x": {"field": "d", "type": "temporal"}, "y": {"field": "p", "type": "quantitative"}, "text": {"field": "t"}}},
   {"data": {"values": [{"p": 210.96}, {"p": 178.93}]}, "mark": {"type": "point", "shape": "M0,0L7,-7L50,-7L50,7L7,7Z", "size": 4, "filled": true, "fill": "#c8c8c8", "stroke": "#000", "strokeWidth": 1, "opacity": 1},
    "encoding": {"x": {"datum": {"year": 2074, "month": 1, "date": 30, "utc": true}, "type": "temporal"}, "y": {"field": "p", "type": "quantitative"}}},
   {"data": {"values": [{"p": 210.96, "t": "210.96"}, {"p": 178.93, "t": "178.93"}]}, "mark": {"type": "text", "align": "left", "baseline": "middle", "dx": 9, "fontSize": 12.5, "color": "#2a3cff"},
    "encoding": {"x": {"datum": {"year": 2074, "month": 1, "date": 30, "utc": true}, "type": "temporal"}, "y": {"field": "p", "type": "quantitative"}, "text": {"field": "t"}}},
   {"data": {"values": [{"p": 195.31}]}, "mark": {"type": "point", "shape": "M0,0L7,-7L50,-7L50,7L7,7Z", "size": 4, "filled": true, "fill": "#74e074", "stroke": "#000", "strokeWidth": 1, "opacity": 1},
    "encoding": {"x": {"datum": {"year": 2074, "month": 1, "date": 30, "utc": true}, "type": "temporal"}, "y": {"field": "p", "type": "quantitative"}}},
   {"data": {"values": [{"p": 78.2}]}, "mark": {"type": "point", "shape": "M0,0L6,-7L39,-7L39,7L6,7Z", "size": 4, "filled": true, "fill": "#fff", "stroke": "#000", "strokeWidth": 1, "opacity": 1},
    "encoding": {"x": {"datum": {"year": 2074, "month": 1, "date": 30, "utc": true}, "type": "temporal"}, "y": {"field": "p", "type": "quantitative"}}},
   {"data": {"values": [{"p": 18.3}]}, "mark": {"type": "point", "shape": "M0,0L6,-7L26,-7L26,7L6,7Z", "size": 4, "filled": true, "fill": "#fff", "stroke": "#000", "strokeWidth": 1, "opacity": 1},
    "encoding": {"x": {"datum": {"year": 2074, "month": 1, "date": 30, "utc": true}, "type": "temporal"}, "y": {"field": "p", "type": "quantitative"}}},
   {"data": {"values": [{"p": 195.31, "t": "195.31"}, {"p": 78.2, "t": "1566"}, {"p": 18.3, "t": "78"}]}, "mark": {"type": "text", "align": "left", "baseline": "middle", "dx": 8, "fontSize": 12.5, "color": "#000"},
    "encoding": {"x": {"datum": {"year": 2074, "month": 1, "date": 30, "utc": true}, "type": "temporal"}, "y": {"field": "p", "type": "quantitative"}, "text": {"field": "t"}}}
  ]
 },
 {
  "spacing": 4,
  "bounds": "flush",
  "vconcat": [
   {
    "width": 1868, "height": 201,
    "layer": [
     {"data": {"name": "hist"}, "mark": {"type": "rule", "strokeWidth": 1.3},
      "encoding": {
       "x": {"field": "d", "type": "temporal",
         "scale": {"type": "utc", "domain": [{"year": 1996, "month": 3, "date": 19, "utc": true}, {"year": 2074, "month": 1, "date": 30, "utc": true}], "nice": false},
         "axis": {"orient": "bottom", "values": [{"year":1999,"month":1,"date":1,"utc":true},{"year":2002,"month":1,"date":1,"utc":true},{"year":2005,"month":1,"date":1,"utc":true},{"year":2008,"month":1,"date":1,"utc":true},{"year":2011,"month":1,"date":1,"utc":true},{"year":2014,"month":1,"date":1,"utc":true},{"year":2017,"month":1,"date":1,"utc":true},{"year":2020,"month":1,"date":1,"utc":true},{"year":2023,"month":1,"date":1,"utc":true},{"year":2026,"month":1,"date":1,"utc":true},{"year":2029,"month":1,"date":1,"utc":true},{"year":2032,"month":1,"date":1,"utc":true},{"year":2035,"month":1,"date":1,"utc":true},{"year":2038,"month":1,"date":1,"utc":true},{"year":2041,"month":1,"date":1,"utc":true},{"year":2044,"month":1,"date":1,"utc":true},{"year":2047,"month":1,"date":1,"utc":true},{"year":2050,"month":1,"date":1,"utc":true},{"year":2053,"month":1,"date":1,"utc":true},{"year":2056,"month":1,"date":1,"utc":true},{"year":2059,"month":1,"date":1,"utc":true},{"year":2062,"month":1,"date":1,"utc":true},{"year":2065,"month":1,"date":1,"utc":true},{"year":2068,"month":1,"date":1,"utc":true},{"year":2071,"month":1,"date":1,"utc":true}],
           "labels": false, "ticks": false, "domain": false, "grid": true, "gridColor": "#bdbdbd", "gridDash": [6, 5], "minExtent": 0, "maxExtent": 0}},
       "y": {"field": "v", "type": "quantitative", "scale": {"domain": [-90.2, 72.8], "nice": false, "zero": false}, "axis": null},
       "y2": {"datum": 0},
       "color": {"condition": {"test": "datum.v >= 0", "value": "#5b90cc"}, "value": "#e23838"}}},
     {"data": {"name": "mfaint"}, "mark": {"type": "line", "color": "#b9bdf6", "strokeWidth": 1, "strokeDash": [4, 3], "interpolate": "monotone"},
      "encoding": {"x": {"field": "d", "type": "temporal", "axis": null}, "y": {"field": "v", "type": "quantitative", "axis": null}}},
     {"data": {"name": "sig"}, "mark": {"type": "line", "color": "#b54040", "strokeWidth": 1, "interpolate": "monotone"},
      "encoding": {"x": {"field": "d", "type": "temporal", "axis": null}, "y": {"field": "v", "type": "quantitative", "axis": null}}},
     {"data": {"name": "macd"}, "mark": {"type": "line", "color": "#444", "strokeWidth": 1},
      "encoding": {"x": {"field": "d", "type": "temporal", "axis": null}, "y": {"field": "v", "type": "quantitative", "axis": null}}},
     {"data": {"values": [{"v": 0}, {"v": -18}]}, "mark": {"type": "rule", "color": "#000", "strokeWidth": 1, "strokeDash": [4, 3]},
      "encoding": {"y": {"field": "v", "type": "quantitative", "axis": null}}},
     {"data": {"values": [{}]}, "mark": {"type": "rule", "color": "#8a8a8a", "strokeWidth": 4, "clip": false},
      "encoding": {"x": {"datum": {"year": 1996, "month": 3, "date": 19, "utc": true}, "type": "temporal", "axis": null}, "x2": {"datum": {"year": 2076, "month": 8, "date": 1, "utc": true}}, "y": {"datum": 74.45, "type": "quantitative", "axis": null}}},
     {"data": {"name": "macdMajor"}, "mark": {"type": "rule", "color": "#000", "strokeWidth": 1, "clip": false},
      "encoding": {"x": {"datum": {"year": 2074, "month": 1, "date": 30, "utc": true}, "type": "temporal", "axis": null}, "x2": {"datum": {"year": 2074, "month": 4, "date": 16, "utc": true}}, "y": {"field": "v", "type": "quantitative", "axis": null}}},
     {"data": {"name": "macdMinor"}, "mark": {"type": "rule", "color": "#000", "strokeWidth": 1, "clip": false},
      "encoding": {"x": {"datum": {"year": 2074, "month": 1, "date": 30, "utc": true}, "type": "temporal", "axis": null}, "x2": {"datum": {"year": 2074, "month": 3, "date": 17, "utc": true}}, "y": {"field": "v", "type": "quantitative", "axis": null}}},
     {"data": {"name": "macdMajor"}, "mark": {"type": "text", "align": "left", "baseline": "middle", "dx": 8, "fontSize": 12.5, "color": "#222"},
      "encoding": {"x": {"datum": {"year": 2074, "month": 1, "date": 30, "utc": true}, "type": "temporal", "axis": null}, "y": {"field": "v", "type": "quantitative", "axis": null}, "text": {"field": "v", "type": "quantitative", "format": ".1f"}}},
     {"data": {"values": [{"d": "1996-07-04", "v": 63.1, "t": "MACD(C,EMA,13,34,8)"}]}, "mark": {"type": "text", "align": "left", "baseline": "middle", "fontSize": 13, "fontWeight": "bold", "color": "#111"},
      "encoding": {"x": {"field": "d", "type": "temporal", "axis": null}, "y": {"field": "v", "type": "quantitative", "axis": null}, "text": {"field": "t"}}},
     {"data": {"values": [{"v": -10.49}]}, "mark": {"type": "point", "shape": "M0,0L6,-7L46,-7L46,7L6,7Z", "size": 4, "filled": true, "fill": "#ff9c9c", "stroke": "#000", "strokeWidth": 1, "opacity": 1},
      "encoding": {"x": {"datum": {"year": 2074, "month": 1, "date": 30, "utc": true}, "type": "temporal", "axis": null}, "y": {"field": "v", "type": "quantitative", "axis": null}}},
     {"data": {"values": [{"v": -10.49, "t": "-10.49"}]}, "mark": {"type": "text", "align": "left", "baseline": "middle", "dx": 7, "fontSize": 12.5, "color": "#000"},
      "encoding": {"x": {"datum": {"year": 2074, "month": 1, "date": 30, "utc": true}, "type": "temporal", "axis": null}, "y": {"field": "v", "type": "quantitative", "axis": null}, "text": {"field": "t"}}}
    ]
   },
   {
    "width": 1868, "height": 197,
    "layer": [
     {"data": {"name": "rsiLow"}, "mark": {"type": "area", "color": "#d9b0b0", "opacity": 0.9, "interpolate": "monotone"},
      "encoding": {"x": {"field": "d", "type": "temporal", "axis": null}, "y": {"field": "v", "type": "quantitative", "axis": null}, "y2": {"datum": 30}}},
     {"data": {"name": "rsiHigh"}, "mark": {"type": "area", "color": "#c8c8e6", "opacity": 0.95},
      "encoding": {"x": {"field": "d", "type": "temporal", "axis": null}, "y": {"field": "v", "type": "quantitative", "axis": null}, "y2": {"datum": 70}, "detail": {"field": "g"}}},
     {"data": {"name": "rsiFaint"}, "mark": {"type": "line", "color": "#b9bdf6", "strokeWidth": 1, "strokeDash": [4, 3]},
      "encoding": {"x": {"field": "d", "type": "temporal", "axis": null}, "y": {"field": "v", "type": "quantitative", "axis": null}}},
     {"data": {"name": "rsi"}, "mark": {"type": "line", "color": "#444", "strokeWidth": 1},
      "encoding": {
       "x": {"field": "d", "type": "temporal",
         "scale": {"type": "utc", "domain": [{"year": 1996, "month": 3, "date": 19, "utc": true}, {"year": 2074, "month": 1, "date": 30, "utc": true}], "nice": false},
         "axis": {"orient": "bottom", "values": [{"year":1999,"month":1,"date":1,"utc":true},{"year":2002,"month":1,"date":1,"utc":true},{"year":2005,"month":1,"date":1,"utc":true},{"year":2008,"month":1,"date":1,"utc":true},{"year":2011,"month":1,"date":1,"utc":true},{"year":2014,"month":1,"date":1,"utc":true},{"year":2017,"month":1,"date":1,"utc":true},{"year":2020,"month":1,"date":1,"utc":true},{"year":2023,"month":1,"date":1,"utc":true},{"year":2026,"month":1,"date":1,"utc":true},{"year":2029,"month":1,"date":1,"utc":true},{"year":2032,"month":1,"date":1,"utc":true},{"year":2035,"month":1,"date":1,"utc":true},{"year":2038,"month":1,"date":1,"utc":true},{"year":2041,"month":1,"date":1,"utc":true},{"year":2044,"month":1,"date":1,"utc":true},{"year":2047,"month":1,"date":1,"utc":true},{"year":2050,"month":1,"date":1,"utc":true},{"year":2053,"month":1,"date":1,"utc":true},{"year":2056,"month":1,"date":1,"utc":true},{"year":2059,"month":1,"date":1,"utc":true},{"year":2062,"month":1,"date":1,"utc":true},{"year":2065,"month":1,"date":1,"utc":true},{"year":2068,"month":1,"date":1,"utc":true},{"year":2071,"month":1,"date":1,"utc":true}],
           "labels": false, "ticks": false, "domain": false, "grid": true, "gridColor": "#bdbdbd", "gridDash": [6, 5], "minExtent": 0, "maxExtent": 0}},
       "y": {"field": "v", "type": "quantitative", "scale": {"domain": [14.4, 86.1], "nice": false, "zero": false}, "axis": null}}},
     {"data": {"values": [{"v": 70}, {"v": 30}]}, "mark": {"type": "rule", "color": "#000", "strokeWidth": 1},
      "encoding": {"y": {"field": "v", "type": "quantitative", "axis": null}}},
     {"data": {"values": [{"v": 50}]}, "mark": {"type": "rule", "color": "#000", "strokeWidth": 1, "strokeDash": [4, 3]},
      "encoding": {"y": {"field": "v", "type": "quantitative", "axis": null}}},
     {"data": {"values": [{}]}, "mark": {"type": "rule", "color": "#8a8a8a", "strokeWidth": 4, "clip": false},
      "encoding": {"x": {"datum": {"year": 1996, "month": 3, "date": 19, "utc": true}, "type": "temporal", "axis": null}, "x2": {"datum": {"year": 2076, "month": 8, "date": 1, "utc": true}}, "y": {"datum": 86.87, "type": "quantitative", "axis": null}}},
     {"data": {"name": "rsiMajor"}, "mark": {"type": "rule", "color": "#000", "strokeWidth": 1, "clip": false},
      "encoding": {"x": {"datum": {"year": 2074, "month": 1, "date": 30, "utc": true}, "type": "temporal", "axis": null}, "x2": {"datum": {"year": 2074, "month": 4, "date": 16, "utc": true}}, "y": {"field": "v", "type": "quantitative", "axis": null}}},
     {"data": {"name": "rsiMinor"}, "mark": {"type": "rule", "color": "#000", "strokeWidth": 1, "clip": false},
      "encoding": {"x": {"datum": {"year": 2074, "month": 1, "date": 30, "utc": true}, "type": "temporal", "axis": null}, "x2": {"datum": {"year": 2074, "month": 3, "date": 17, "utc": true}}, "y": {"field": "v", "type": "quantitative", "axis": null}}},
     {"data": {"name": "rsiMajor"}, "mark": {"type": "text", "align": "left", "baseline": "middle", "dx": 8, "fontSize": 12.5, "color": "#222"},
      "encoding": {"x": {"datum": {"year": 2074, "month": 1, "date": 30, "utc": true}, "type": "temporal", "axis": null}, "y": {"field": "v", "type": "quantitative", "axis": null}, "text": {"field": "v", "type": "quantitative", "format": ".1f"}}},
     {"data": {"values": [{"d": "1996-07-04", "v": 81.8, "t": "RSI(C,13)"}]}, "mark": {"type": "text", "align": "left", "baseline": "middle", "fontSize": 13, "fontWeight": "bold", "color": "#111"},
      "encoding": {"x": {"field": "d", "type": "temporal", "axis": null}, "y": {"field": "v", "type": "quantitative", "axis": null}, "text": {"field": "t"}}},
     {"data": {"values": [{"v": 44.6}]}, "mark": {"type": "point", "shape": "M0,0L6,-7L37,-7L37,7L6,7Z", "size": 4, "filled": true, "fill": "#f09090", "stroke": "#000", "strokeWidth": 1, "opacity": 1},
      "encoding": {"x": {"datum": {"year": 2074, "month": 1, "date": 30, "utc": true}, "type": "temporal", "axis": null}, "y": {"field": "v", "type": "quantitative", "axis": null}}},
     {"data": {"values": [{"v": 45.3}]}, "mark": {"type": "point", "shape": "M0,0L6,-7L37,-7L37,7L6,7Z", "size": 4, "filled": true, "fill": "#a6c8ff", "stroke": "#000", "strokeWidth": 1, "opacity": 1},
      "encoding": {"x": {"datum": {"year": 2074, "month": 1, "date": 30, "utc": true}, "type": "temporal", "axis": null}, "y": {"field": "v", "type": "quantitative", "axis": null}}},
     {"data": {"values": [{"v": 45.3, "t": "45.3"}]}, "mark": {"type": "text", "align": "left", "baseline": "middle", "dx": 8, "fontSize": 12.5, "color": "#000"},
      "encoding": {"x": {"datum": {"year": 2074, "month": 1, "date": 30, "utc": true}, "type": "temporal", "axis": null}, "y": {"field": "v", "type": "quantitative", "axis": null}, "text": {"field": "t"}}},
     {"data": {"values": [{"v": 15.9, "t": "motivewave.com"}]}, "mark": {"type": "text", "align": "left", "baseline": "middle", "dx": -30, "fontSize": 10, "fontWeight": "bold", "color": "#555"},
      "encoding": {"x": {"datum": {"year": 2074, "month": 1, "date": 30, "utc": true}, "type": "temporal", "axis": null}, "y": {"field": "v", "type": "quantitative", "axis": null}, "text": {"field": "t"}}}
    ]
   }
  ]
 }
]
}
